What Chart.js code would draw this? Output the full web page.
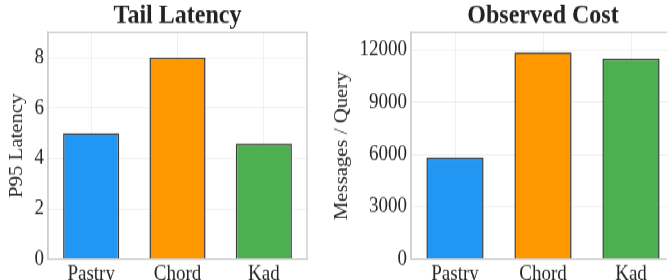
<!DOCTYPE html>
<html>
<head>
<meta charset="utf-8">
<script src="https://cdn.jsdelivr.net/npm/chart.js@4"></script>
<style>
  html, body { margin: 0; padding: 0; background: #fff; }
  #wrap { position: relative; width: 667px; height: 280px; overflow: hidden; }
  #stretch { position: absolute; left: 0; top: 0; width: 700px; height: 243px;
             transform: scaleY(1.1523); transform-origin: 0 0; }
  #left { position: absolute; left: 0; top: 0; }
  #right { position: absolute; left: 333px; top: 0; }
</style>
</head>
<body>
<div id="wrap">
  <div id="stretch">
    <canvas id="left" width="320" height="243"></canvas>
    <canvas id="right" width="347" height="243"></canvas>
  </div>
</div>
<script>
const systems = ["Pastry", "Chord", "Kad"];
const barColors = ["#2196F3", "#FF9800", "#4CAF50"];
const latencyValues = [5.0, 8.0, 4.58];
const latencyTicks = [0, 2, 4, 6, 8];
const costValues = [5820, 11850, 11500];
const costTicks = [0, 3000, 6000, 9000, 12000];

const serif = "'Liberation Serif', 'Times New Roman', serif";
Chart.defaults.font.family = serif;
Chart.defaults.color = "#262626";

function makeChart(id, title, yTitle, values, ticks, yMax, yWidth, padRight, yTitlePad) {
  const ctx = document.getElementById(id).getContext("2d");
  return new Chart(ctx, {
    type: "bar",
    data: {
      labels: systems,
      datasets: [{
        data: values,
        backgroundColor: barColors,
        borderColor: "#3a3a3a",
        borderWidth: 1.5,
        barPercentage: 0.65,
        categoryPercentage: 1.0
      }]
    },
    options: {
      responsive: false,
      animation: false,
      layout: { padding: { left: 0, right: padRight, top: 0, bottom: 0 } },
      plugins: {
        legend: { display: false },
        tooltip: { enabled: false },
        title: {
          display: true,
          text: title,
          fullSize: false,
          color: "#222",
          font: { size: 24, weight: "bold", lineHeight: 1.0 },
          padding: { top: 2, bottom: 2.2 }
        }
      },
      scales: {
        x: {
          grid: { offset: false, color: "rgba(0,0,0,0.06)", drawTicks: false },
          border: { color: "#d0d0d0", width: 1.5 },
          ticks: { font: { size: 19 }, padding: 2, color: "#262626" },
          afterFit: (s) => { s.height = 18.2; }
        },
        y: {
          min: 0,
          max: yMax,
          grid: { color: "rgba(0,0,0,0.06)", drawTicks: false },
          border: { color: "#d0d0d0", width: 1.5 },
          ticks: { font: { size: 19 }, padding: 4, color: "#262626",
                   callback: (v) => String(v) },
          afterBuildTicks: (s) => { s.ticks = ticks.map(v => ({ value: v })); },
          title: {
            display: true,
            text: yTitle,
            font: { size: 18, lineHeight: 1.0 },
            padding: { top: yTitlePad, bottom: 0 },
            color: "#262626"
          },
          afterFit: (s) => { s.width = yWidth; }
        }
      }
    },
    plugins: [{
      id: "frame",
      afterDraw(chart) {
        const a = chart.chartArea, c = chart.ctx;
        c.save();
        c.strokeStyle = "#d0d0d0";
        c.lineWidth = 1.5;
        c.strokeRect(a.left, a.top, a.right - a.left, a.bottom - a.top);
        c.restore();
      }
    }]
  });
}

makeChart("left", "Tail Latency", "P95 Latency", latencyValues, latencyTicks, 9, 48, 13, 8.5);
makeChart("right", "Observed Cost", "Messages / Query", costValues, costTicks, 13000, 78, 5, 0.5);
</script>
</body>
</html>
